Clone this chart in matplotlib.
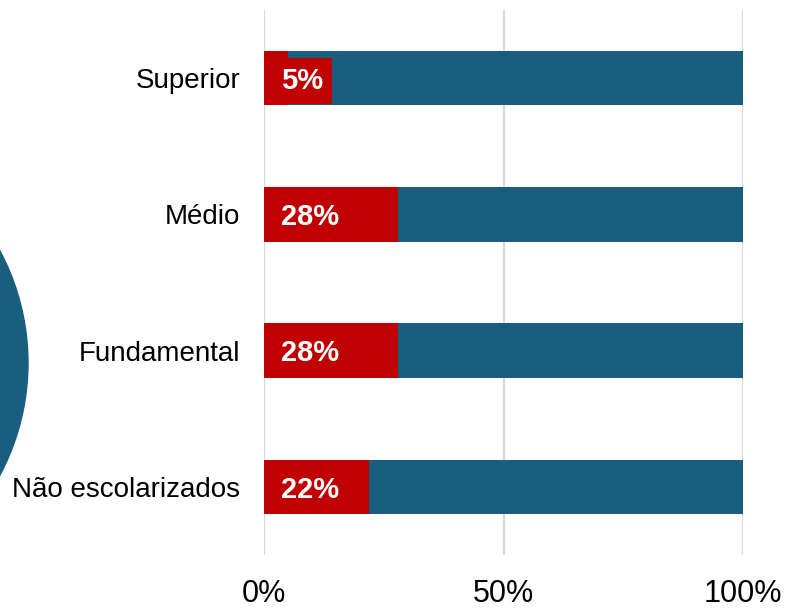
import matplotlib
matplotlib.use("Agg")
import matplotlib.pyplot as plt
from matplotlib.patches import Ellipse

plt.rcParams["font.family"] = ["Liberation Sans", "DejaVu Sans"]

categories = ["Superior", "Médio", "Fundamental", "Não escolarizados"]
shares = [5, 28, 28, 22]
rest = [100 - v for v in shares]
xticks = [0, 50, 100]

red = "#c00000"
blue = "#1a5e7f"

fig = plt.figure(figsize=(7.9, 6.1), dpi=100)
ax = fig.add_axes([264 / 790, 1 - 555 / 610, (743 - 264) / 790, 545 / 610])

ypos = list(range(len(categories)))
ax.barh(ypos, shares, height=0.4, color=red, zorder=3)
ax.barh(ypos, rest, left=shares, height=0.4, color=blue, zorder=3)

for y, v in zip(ypos, shares):
    ax.text(3.6, y + 0.02, f"{v}%", color="white", fontsize=21, fontweight="bold",
            ha="left", va="center", zorder=5,
            bbox=dict(boxstyle="square,pad=0.3", fc=red, ec="none") if v < 10 else None)

ax.set_xlim(0, 100)
ax.set_ylim(3.5, -0.5)
ax.set_yticks(ypos)
ax.set_yticklabels(categories, fontsize=20)
ax.set_xticks(xticks)
ax.set_xticklabels([f"{t}%" for t in xticks], fontsize=22)
ax.tick_params(length=0)
ax.tick_params(axis="x", pad=17)
ax.tick_params(axis="y", pad=17)
ax.xaxis.grid(True, color="#d9d9d9", lw=1.6, zorder=0)
ax.set_axisbelow(True)
for s in ax.spines.values():
    s.set_visible(False)

# partial circle at the left edge
fig.patches.append(Ellipse((-210 / 790, 1 - 363 / 610), 2 * 238 / 790, 2 * 238 / 610,
                           transform=fig.transFigure, color=blue, zorder=0))

fig.savefig("out.png", dpi=100)
